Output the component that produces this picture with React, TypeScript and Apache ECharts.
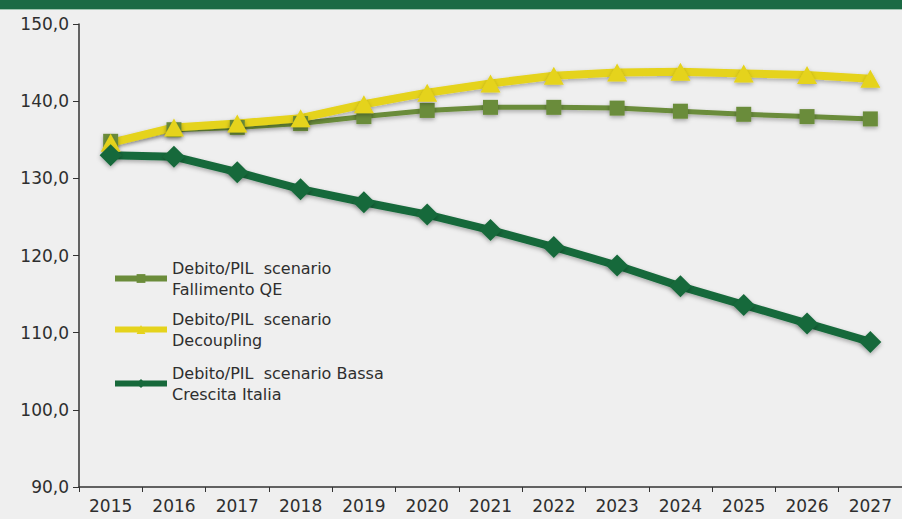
import React, { useEffect, useRef } from "react";
import * as echarts from "echarts";

const years = ["2015", "2016", "2017", "2018", "2019", "2020", "2021", "2022", "2023", "2024", "2025", "2026", "2027"];
const fallimentoQE = [134.8, 136.3, 136.6, 137.1, 138.0, 138.8, 139.2, 139.2, 139.1, 138.7, 138.3, 138.0, 137.7];
const decoupling = [134.6, 136.6, 137.1, 137.8, 139.6, 141.1, 142.3, 143.3, 143.7, 143.8, 143.6, 143.4, 142.9];
const bassaCrescita = [133.0, 132.8, 130.8, 128.6, 126.9, 125.3, 123.3, 121.1, 118.7, 116.0, 113.6, 111.2, 108.8];
const seriesNames = [
  "Debito/PIL  scenario\nFallimento QE",
  "Debito/PIL  scenario\nDecoupling",
  "Debito/PIL  scenario Bassa\nCrescita Italia",
];
const yMin = 90;
const yMax = 150;
const yStep = 10;

const FONT = "DejaVu Sans";
const TEXT = "#2e2e2e";
const colors = ["#6b8c3a", "#e5d31c", "#17693b"];

export default function App() {
  const ref = useRef<HTMLDivElement>(null);
  useEffect(() => {
    if (!ref.current) return;
    const chart = echarts.init(ref.current, null, { renderer: "svg" });
    const shadow = { shadowBlur: 4, shadowColor: "rgba(0,0,0,0.3)", shadowOffsetY: 2 };
    const legendText = {
      fontFamily: FONT,
      fontSize: 16,
      color: TEXT,
      lineHeight: 21,
      padding: [21, 0, 0, 0],
    };
    const legendTops = [247, 298, 352];
    chart.setOption({
      animation: false,
      backgroundColor: "#efefef",
      graphic: [
        { type: "rect", left: 0, top: 0, shape: { width: 902, height: 9 }, style: { fill: "#1b6a44" } },
        { type: "rect", left: 0, top: 9, shape: { width: 902, height: 1 }, style: { fill: "#9fc3ae" } },
      ],
      grid: { left: 79, right: 0, top: 24, bottom: 32, containLabel: false },
      legend: seriesNames.map((n, i) => ({
        data: [n],
        orient: "vertical",
        left: 112,
        top: legendTops[i],
        padding: 0,
        itemWidth: 52,
        itemHeight: 11,
        itemGap: 0,
        lineStyle: { width: 6 },
        textStyle: legendText,
      })),
      xAxis: {
        type: "category",
        data: years,
        boundaryGap: true,
        axisLine: { lineStyle: { color: "#333", width: 1.5 } },
        axisTick: { show: true, length: 5, lineStyle: { color: "#333" } },
        axisLabel: { fontFamily: FONT, fontSize: 17, color: TEXT, margin: 10 },
        splitLine: { show: false },
      },
      yAxis: {
        type: "value",
        min: yMin,
        max: yMax,
        interval: yStep,
        axisLine: { show: true, lineStyle: { color: "#333", width: 1.5 } },
        axisTick: { show: true, length: 6, lineStyle: { color: "#333" } },
        axisLabel: {
          fontFamily: FONT,
          fontSize: 17,
          color: TEXT,
          margin: 10,
          formatter: (v: number) => v.toFixed(1).replace(".", ","),
        },
        splitLine: { show: false },
      },
      series: [
        {
          name: seriesNames[0],
          type: "line",
          data: fallimentoQE,
          symbol: "rect",
          symbolSize: 15,
          lineStyle: { color: colors[0], width: 5, ...shadow },
          itemStyle: { color: colors[0], ...shadow },
        },
        {
          name: seriesNames[1],
          type: "line",
          data: decoupling,
          symbol: "triangle",
          symbolSize: [20, 18],
          lineStyle: { color: colors[1], width: 8, ...shadow },
          itemStyle: { color: colors[1], ...shadow },
        },
        {
          name: seriesNames[2],
          type: "line",
          data: bassaCrescita,
          symbol: "diamond",
          symbolSize: [22, 22],
          lineStyle: { color: colors[2], width: 8, ...shadow },
          itemStyle: { color: colors[2], ...shadow },
        },
      ],
    });
    return () => chart.dispose();
  }, []);
  return <div ref={ref} style={{ width: 902, height: 519, position: "fixed", left: 0, top: 0 }} />;
}
